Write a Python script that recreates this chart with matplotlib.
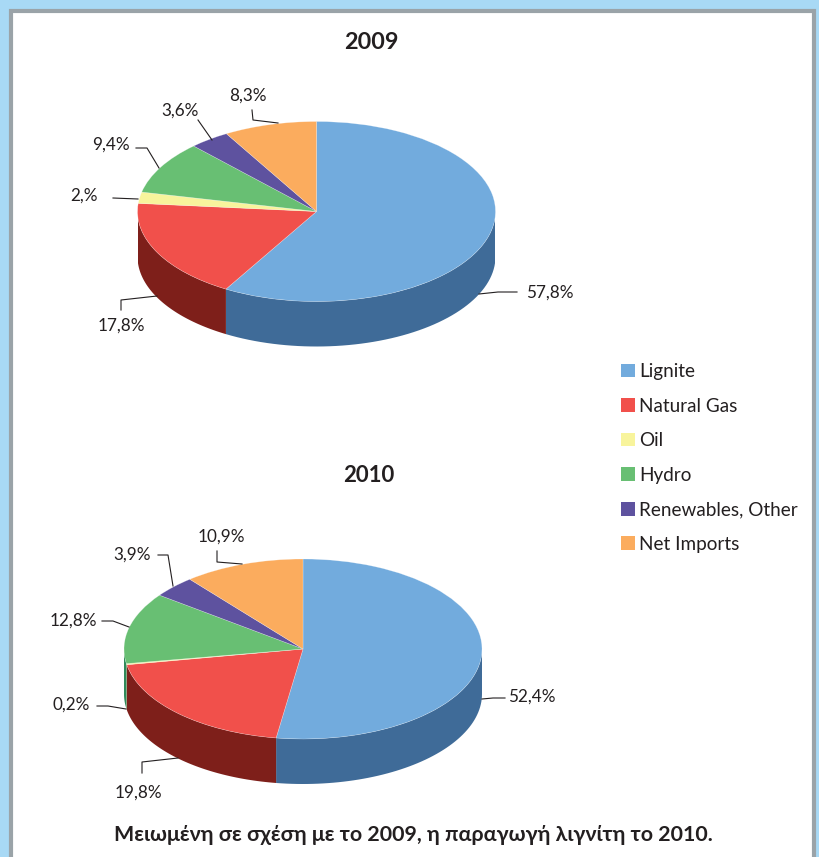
import numpy as np
import matplotlib
matplotlib.use("Agg")
import matplotlib.pyplot as plt
from matplotlib.patches import Patch, Rectangle

plt.rcParams['font.family'] = ['Lato', 'Noto Sans', 'DejaVu Sans']

W, H = 819, 857

names = ["Lignite", "Natural Gas", "Oil", "Hydro", "Renewables, Other", "Net Imports"]
colors = ["#72ABDD", "#F1504B", "#F8F49C", "#68BF73", "#5E529F", "#FBAC5E"]
dark = ["#3F6B98", "#7E1F1A", "#A8A65E", "#2F8A5A", "#3B3370", "#B87A3C"]

values_2009 = [57.8, 17.8, 2.0, 9.4, 3.6, 8.3]
labels_2009 = ["57,8%", "17,8%", "2,%", "9,4%", "3,6%", "8,3%"]
values_2010 = [52.4, 19.8, 0.2, 12.8, 3.9, 10.9]
labels_2010 = ["52,4%", "19,8%", "0,2%", "12,8%", "3,9%", "10,9%"]

# x, y of the label text, then the leader line, all in pixels
label_pos_2009 = [(550, 293), (121, 326), (84, 196), (111, 145), (180, 111), (248, 96)]
leaders_2009 = [
    [(479, 294), (498, 292), (517, 292)],
    [(121, 310), (121, 300), (157, 296)],
    [(113, 198), (138, 199)],
    [(136, 148), (147, 148), (159, 168)],
    [(198, 120), (212, 140)],
    [(252, 110), (253, 120), (278, 123)],
]
label_pos_2010 = [(532, 697), (138, 793), (71, 705), (73, 621), (132, 555), (221, 537)]
leaders_2010 = [
    [(482, 699), (493, 698), (505, 698)],
    [(142, 773), (142, 762), (178, 758)],
    [(97, 706), (108, 706), (126, 709)],
    [(102, 621), (113, 621), (129, 627)],
    [(158, 555), (168, 555), (173, 586)],
    [(217, 551), (217, 562), (242, 564)],
]


def pie3d(fig, values, cx, cy, rx=179, ry=90, depth=45):
    ax = fig.add_axes([(cx - rx) / W, 1 - (cy + ry + depth) / H,
                       2 * rx / W, (2 * ry + depth) / H])
    ax.pie(values, colors=colors, startangle=90, counterclock=False,
           wedgeprops=dict(linewidth=0.4, edgecolor="#FFFFFF60"), normalize=True)
    ax.set_aspect("auto")
    d = depth / ry
    ax.set_xlim(-1, 1)
    ax.set_ylim(-1 - d, 1)
    # side wall: only the front half of each slice shows
    edges = 450 - 360 * np.cumsum([0] + list(values)) / sum(values)
    for i in range(len(values)):
        lo, hi = max(edges[i + 1], 180), min(edges[i], 360)
        if hi <= lo:
            continue
        t = np.radians(np.linspace(lo, hi, 60))
        x, y = np.cos(t), np.sin(t)
        ax.fill(np.r_[x, x[::-1]], np.r_[y, y[::-1] - d], color=dark[i], lw=0, zorder=0)
    return ax


fig = plt.figure(figsize=(W / 100, H / 100), dpi=100, facecolor="#A8D9F5")

# panel and pixel overlay
bg = fig.add_axes([0, 0, 1, 1], zorder=-1)
bg.set_xlim(0, W)
bg.set_ylim(H, 0)
bg.axis("off")
bg.add_patch(Rectangle((11, 11), 803, 860, fc="white", ec="#9AA3A8", lw=3))

pie3d(fig, values_2009, 316.5, 211.5)
pie3d(fig, values_2010, 303, 649)

ov = fig.add_axes([0, 0, 1, 1], zorder=5)
ov.set_xlim(0, W)
ov.set_ylim(H, 0)
ov.axis("off")

for labels, pos, leaders in [(labels_2009, label_pos_2009, leaders_2009),
                             (labels_2010, label_pos_2010, leaders_2010)]:
    for lab, (x, y), pts in zip(labels, pos, leaders):
        ov.text(x, y, lab, fontsize=12.3, color="#231F20", ha="center", va="center")
        ov.plot(*zip(*pts), color="#231F20", lw=0.8)

ov.text(371, 42, "2009", fontsize=16.8, fontweight="bold", color="#231F20", ha="center", va="center")
ov.text(369, 475, "2010", fontsize=16, fontweight="bold", color="#231F20", ha="center", va="center")
ov.text(413, 835, "Μειωμένη σε σχέση με το 2009, η παραγωγή λιγνίτη το 2010.",
        fontsize=15.4, fontweight="bold", color="#231F20", ha="center", va="center")

handles = [Patch(fc=c, ec="none") for c in colors]
fig.legend(handles, names, loc="upper left", bbox_to_anchor=(621 / W, 1 - 363 / H),
           frameon=False, fontsize=13.6, labelcolor="#231F20", handlelength=0.74,
           handleheight=0.74, handletextpad=0.22, labelspacing=0.93, borderpad=0, borderaxespad=0)

fig.savefig("out.png", dpi=100, facecolor=fig.get_facecolor())
